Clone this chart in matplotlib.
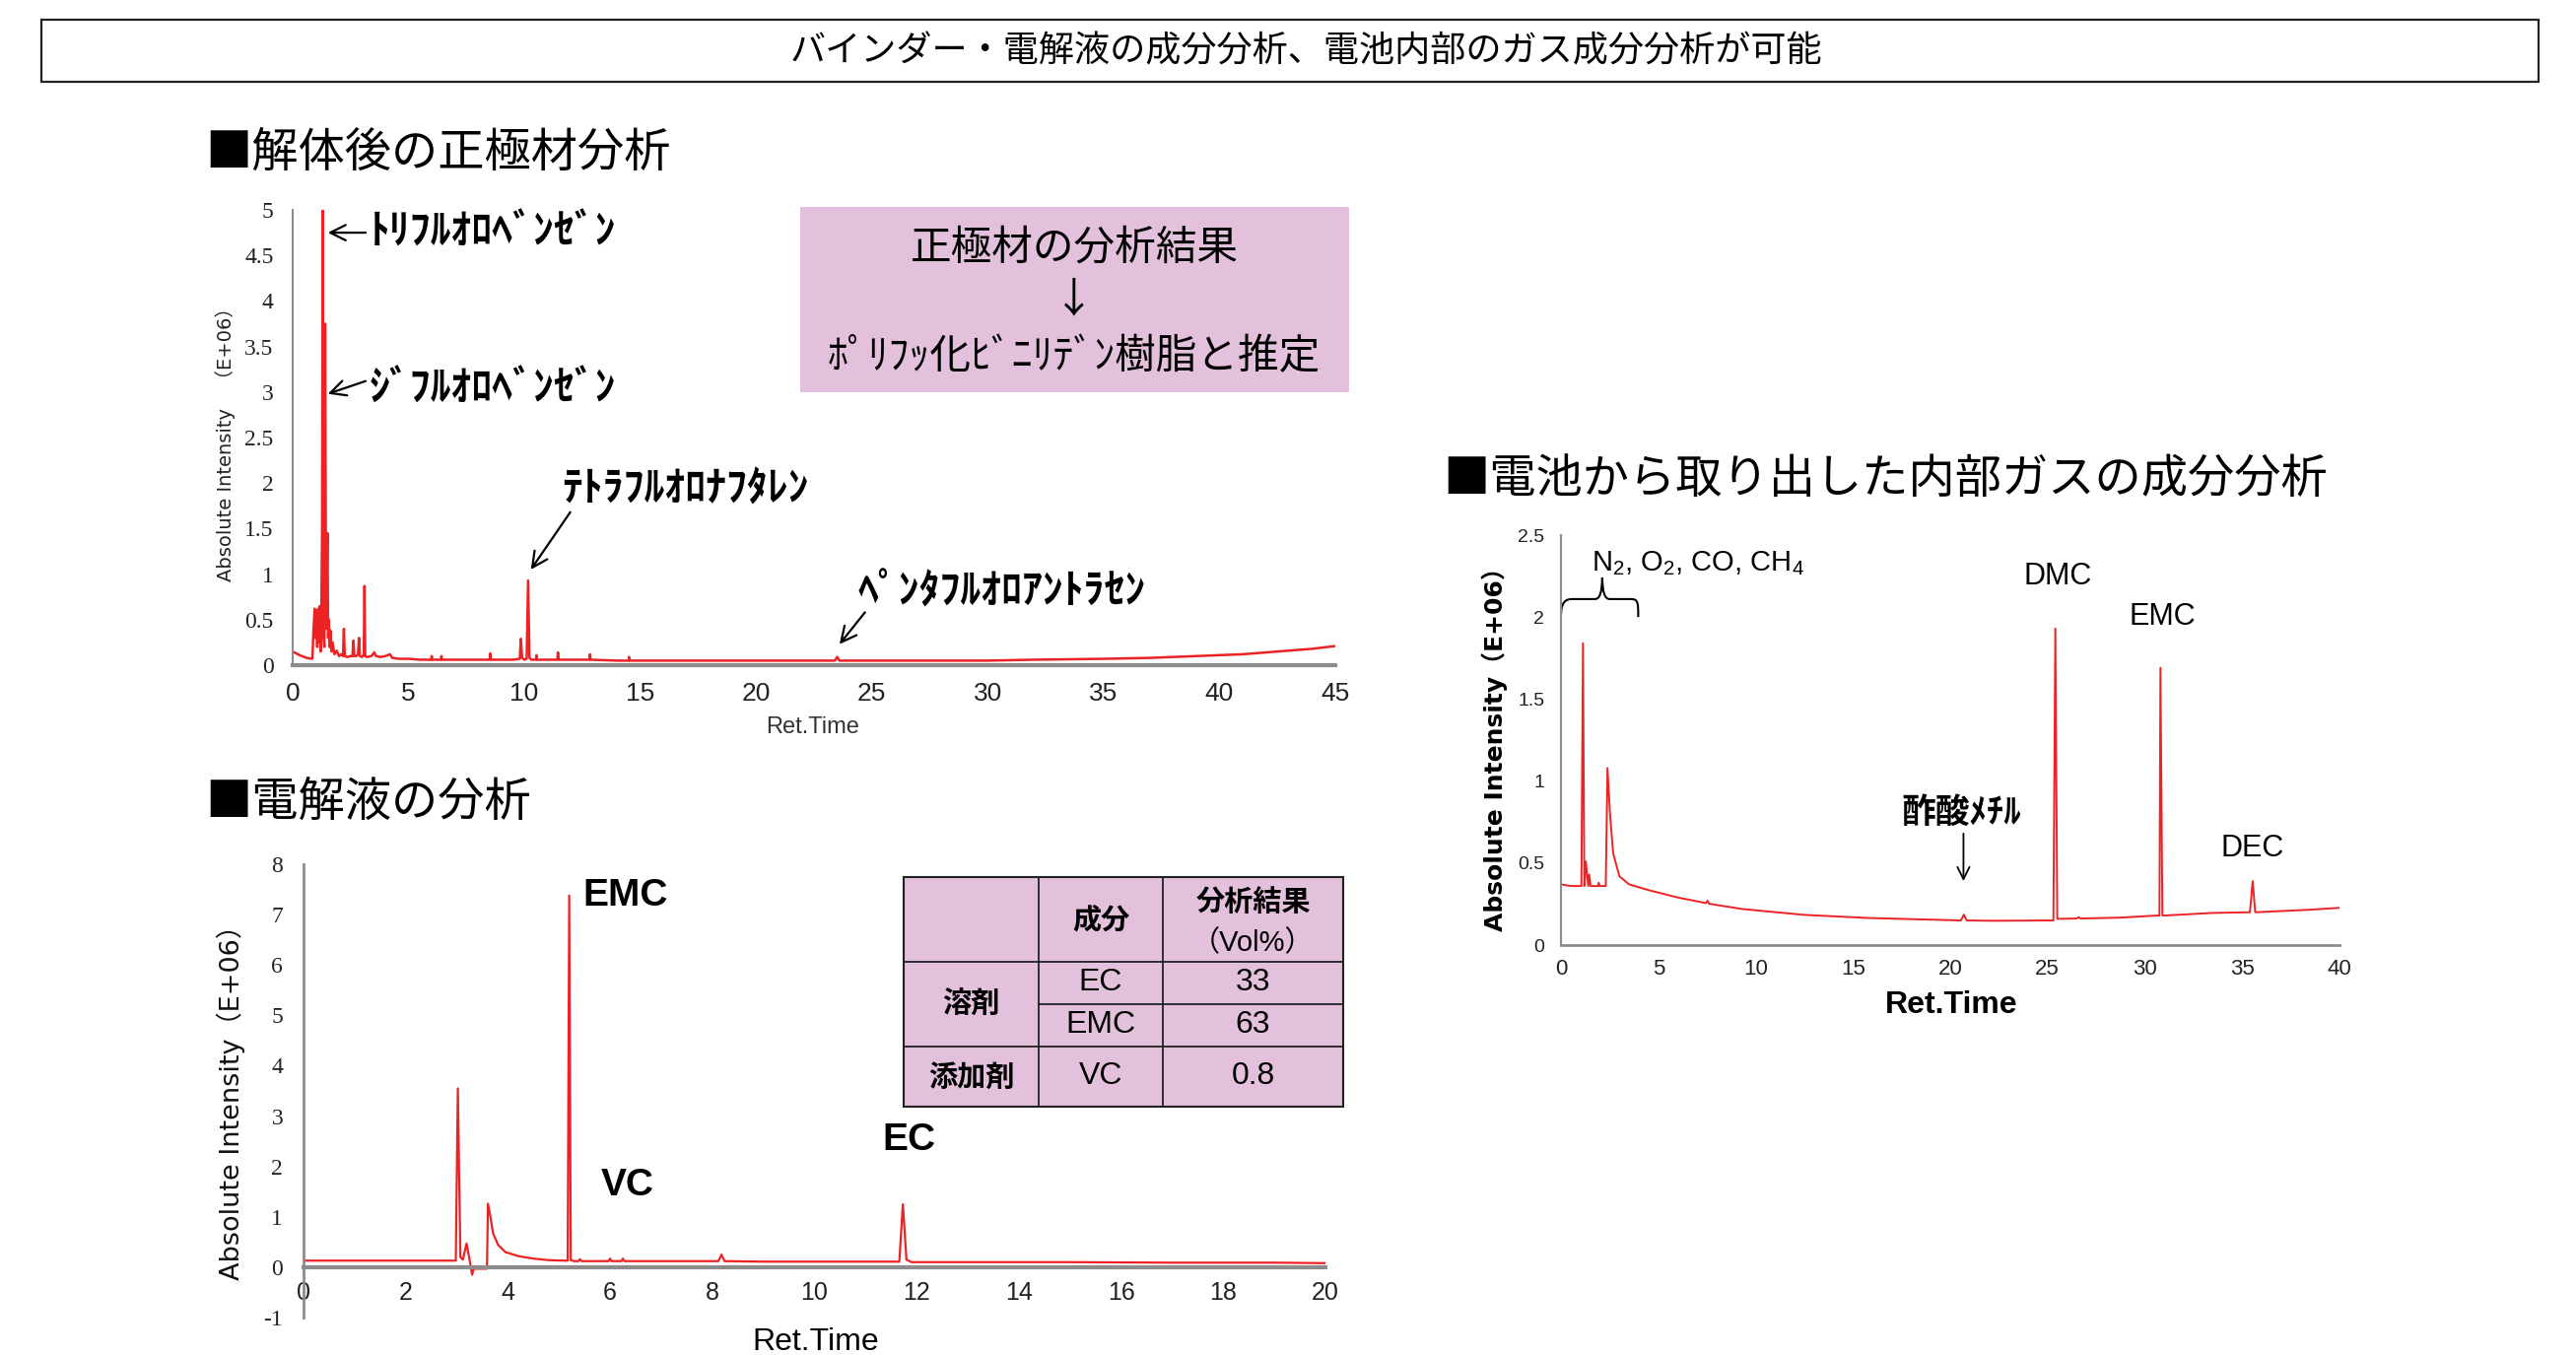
import matplotlib
matplotlib.use("Agg")
import matplotlib.pyplot as plt
from matplotlib.patches import Rectangle, PathPatch
from matplotlib.path import Path
from matplotlib.ticker import FuncFormatter

W, H = 2614, 1375
DPI = 100

JP = ["Noto Sans CJK JP", "DejaVu Sans"]
NARROW = ["Liberation Sans Narrow", "Liberation Sans", "Noto Sans CJK JP"]
SERIF = ["Liberation Serif", "DejaVu Serif"]
WIDE = ["DejaVu Sans", "Noto Sans CJK JP"]
RED = "#ED2224"
AXIS_GRAY = "#8c8c8c"
PINK = "#E3C1DC"

plt.rcParams["mathtext.fontset"] = "custom"
plt.rcParams["mathtext.rm"] = "Liberation Sans"
plt.rcParams["mathtext.it"] = "Liberation Sans:italic"

TITLE = "バインダー・電解液の成分分析、電池内部のガス成分分析が可能"

# cathode material after disassembly (x: min, y: E+06)
cathode_time = [0.0, 0.3, 0.6, 0.85, 0.9, 0.95, 0.98, 1.02, 1.06, 1.1,
                1.13, 1.17, 1.21, 1.24, 1.27, 1.3, 1.33, 1.37, 1.4, 1.44,
                1.47, 1.5, 1.53, 1.56, 1.6, 1.63, 1.67, 1.72, 1.8, 1.9,
                2.0, 2.1, 2.17, 2.21, 2.25, 2.35, 2.5, 2.58, 2.62, 2.66,
                2.75, 2.82, 2.86, 2.9, 3.0, 3.07, 3.1, 3.13, 3.2, 3.4,
                3.52, 3.6, 3.8, 4.0, 4.2, 4.3, 4.6, 5.0, 5.5, 5.98,
                6.0, 6.02, 6.4, 6.42, 6.44, 7.0, 8.0, 8.5, 8.53, 8.56,
                9.0, 9.5, 9.8, 9.85, 9.9, 10.0, 10.1, 10.16, 10.22, 10.3,
                10.5, 10.52, 10.54, 11.0, 11.42, 11.45, 11.48, 12.0, 12.8, 12.83,
                12.86, 14.0, 14.5, 14.52, 14.54, 16.0, 18.0, 20.0, 22.0, 23.4,
                23.5, 23.6, 25.0, 28.0, 30.0, 32.0, 35.0, 37.0, 39.0, 40.0,
                41.0, 42.0, 43.0, 44.0, 45.0]
cathode_intensity = [0.15, 0.11, 0.08, 0.07, 0.4, 0.62, 0.3, 0.6, 0.2, 0.62,
                     0.25, 0.65, 0.15, 0.66, 1.5, 5.0, 0.3, 0.2, 3.75, 0.4,
                     0.9, 1.45, 0.3, 0.5, 0.2, 0.38, 0.15, 0.25, 0.12, 0.16,
                     0.1, 0.12, 0.1, 0.4, 0.1, 0.09, 0.1, 0.1, 0.27, 0.1,
                     0.1, 0.12, 0.3, 0.1, 0.09, 0.12, 0.87, 0.1, 0.09, 0.1,
                     0.14, 0.1, 0.09, 0.1, 0.12, 0.08, 0.07, 0.07, 0.06, 0.06,
                     0.1, 0.06, 0.06, 0.1, 0.06, 0.06, 0.06, 0.06, 0.13, 0.06,
                     0.06, 0.06, 0.07, 0.29, 0.08, 0.06, 0.07, 0.93, 0.08, 0.06,
                     0.06, 0.11, 0.06, 0.06, 0.06, 0.14, 0.06, 0.06, 0.06, 0.12,
                     0.06, 0.05, 0.05, 0.09, 0.05, 0.05, 0.05, 0.05, 0.05, 0.05,
                     0.09, 0.05, 0.05, 0.05, 0.05, 0.06, 0.07, 0.08, 0.1, 0.11,
                     0.12, 0.14, 0.16, 0.18, 0.21]

# electrolyte
electrolyte_time = [0.0, 1.0, 2.0, 2.98, 3.02, 3.07, 3.12, 3.19, 3.25, 3.3,
                    3.33, 3.4, 3.5, 3.59, 3.61, 3.65, 3.71, 3.81, 3.95, 4.2,
                    4.5, 4.8, 5.1, 5.17, 5.2, 5.23, 5.3, 5.38, 5.41, 5.44,
                    5.97, 6.0, 6.03, 6.22, 6.25, 6.28, 7.0, 8.12, 8.18, 8.24,
                    9.0, 10.0, 11.0, 11.66, 11.73, 11.8, 11.9, 13.0, 15.0, 17.0,
                    19.0, 20.0]
electrolyte_intensity = [0.13, 0.13, 0.13, 0.13, 3.55, 0.2, 0.15, 0.47, 0.15, -0.15,
                         -0.03, -0.03, -0.03, -0.03, 1.26, 1.05, 0.67, 0.44, 0.30, 0.22,
                         0.17, 0.14, 0.13, 0.13, 7.38, 0.14, 0.12, 0.12, 0.16, 0.12,
                         0.12, 0.17, 0.12, 0.12, 0.17, 0.12, 0.12, 0.12, 0.25, 0.12,
                         0.11, 0.11, 0.11, 0.11, 1.25, 0.15, 0.1, 0.1, 0.1, 0.09,
                         0.09, 0.08]

# gas taken out of the cell
gas_time = [0.0, 0.5, 1.05, 1.13, 1.2, 1.28, 1.4, 1.45, 1.52, 1.7,
            1.9, 1.94, 1.98, 2.3, 2.39, 2.52, 2.68, 3.0, 3.5, 4.5,
            6.0, 7.45, 7.53, 7.6, 9.3, 12.5, 15.8, 19.0, 20.55, 20.7,
            20.85, 22.2, 25.1, 25.3, 25.4, 25.5, 25.6, 26.5, 26.6, 26.7,
            28.7, 30.6, 30.75, 30.8, 30.9, 31.0, 33.5, 35.4, 35.54, 35.67,
            38.4, 40.0]
gas_intensity = [0.37, 0.36, 0.36, 1.84, 0.36, 0.51, 0.36, 0.43, 0.36, 0.36,
                 0.36, 0.38, 0.36, 0.36, 1.08, 0.80, 0.56, 0.42, 0.37, 0.335,
                 0.29, 0.256, 0.27, 0.252, 0.22, 0.184, 0.165, 0.155, 0.15, 0.185,
                 0.15, 0.148, 0.15, 0.15, 1.93, 0.16, 0.16, 0.162, 0.17, 0.162,
                 0.167, 0.18, 0.18, 1.69, 0.18, 0.18, 0.196, 0.2, 0.39, 0.2,
                 0.215, 0.227]

table_groups = ["溶剤", "添加剤"]
table_components = ["EC", "EMC", "VC"]
table_results = ["33", "63", "0.8"]


def rect(left, top, right, bottom):
    return [left / W, 1 - bottom / H, (right - left) / W, (bottom - top) / H]


def fx(x):
    return x / W


def fy(y):
    return 1 - y / H


def style_axes(ax, left_lw=1.5, bottom_lw=2.5):
    ax.patch.set_alpha(0)
    for side in ("top", "right"):
        ax.spines[side].set_visible(False)
    ax.spines["left"].set_color(AXIS_GRAY)
    ax.spines["left"].set_linewidth(left_lw)
    ax.spines["bottom"].set_color(AXIS_GRAY)
    ax.spines["bottom"].set_linewidth(bottom_lw)
    ax.tick_params(length=0, colors="#222222")
    ax.yaxis.set_major_formatter(FuncFormatter(lambda v, _: f"{v:g}"))


def set_tick_font(labels, family, size):
    for lbl in labels:
        lbl.set_family(family)
        lbl.set_fontsize(size)


fig = plt.figure(figsize=(W / DPI, H / DPI), dpi=DPI)

# banner
fig.add_artist(Rectangle((fx(42), fy(83)), (2576 - 42) / W, (83 - 20) / H,
                         transform=fig.transFigure, fill=False, ec="#222222", lw=1.6))
fig.text(fx(1325), fy(52), TITLE, ha="center", va="center", fontsize=26, family=JP)

# ---- cathode chart ----
fig.text(fx(208), fy(156), "■解体後の正極材分析", ha="left", va="center", fontsize=34, family=JP)
ax1 = fig.add_axes(rect(297, 213, 1355, 675))
style_axes(ax1, 1.5, 3)
ax1.plot(cathode_time, cathode_intensity, color=RED, lw=1.8)
ax1.set_xlim(0, 45)
ax1.set_ylim(0, 5)
ax1.set_xticks(range(0, 46, 5))
ax1.set_yticks([i * 0.5 for i in range(11)])
ax1.tick_params(axis="x", pad=12)
ax1.tick_params(axis="y", pad=14)
set_tick_font(ax1.get_xticklabels(), NARROW, 19)
set_tick_font(ax1.get_yticklabels(), SERIF, 17)
fig.text(fx(229), fy(446), "Absolute Intensity　（E+06）", rotation=90, ha="center", va="center",
         fontsize=14, family=WIDE, color="#222222")
fig.text(fx(825), fy(738), "Ret.Time", ha="center", va="center", fontsize=17, family=NARROW, color="#333333")

label_font = dict(ha="left", va="center", fontsize=30, family=JP, weight="bold")
arrow = dict(arrowstyle="->", color="black", lw=1.6, mutation_scale=28, shrinkA=0, shrinkB=0)
ax1.text(3.3, 4.75, "ﾄﾘﾌﾙｵﾛﾍﾞﾝｾﾞﾝ", **label_font)
ax1.annotate("", xy=(1.52, 4.75), xytext=(3.15, 4.75), arrowprops=arrow)
ax1.text(3.3, 3.03, "ｼﾞﾌﾙｵﾛﾍﾞﾝｾﾞﾝ", **label_font)
ax1.annotate("", xy=(1.52, 2.98), xytext=(3.15, 3.12), arrowprops=arrow)
ax1.text(11.6, 1.93, "ﾃﾄﾗﾌﾙｵﾛﾅﾌﾀﾚﾝ", **label_font)
ax1.annotate("", xy=(10.28, 1.05), xytext=(11.98, 1.68), arrowprops=arrow)
ax1.text(24.4, 0.81, "ﾍﾟﾝﾀﾌﾙｵﾛｱﾝﾄﾗｾﾝ", **label_font)
ax1.annotate("", xy=(23.6, 0.23), xytext=(24.7, 0.58), arrowprops=arrow)

# result box
fig.add_artist(Rectangle((fx(812), fy(398)), (1369 - 812) / W, (398 - 210) / H,
                         transform=fig.transFigure, fc=PINK, ec="none", zorder=5))
fig.text(fx(1090), fy(252), "正極材の分析結果", ha="center", va="center", fontsize=30, family=JP, zorder=6)
fig.text(fx(1090), fy(305), "↓", ha="center", va="center", fontsize=30, family=JP, zorder=6)
fig.text(fx(1090), fy(363), "ﾎﾟﾘﾌｯ化ﾋﾞﾆﾘﾃﾞﾝ樹脂と推定", ha="center", va="center", fontsize=30,
         family=JP, zorder=6)

# ---- electrolyte chart ----
fig.text(fx(208), fy(815), "■電解液の分析", ha="left", va="center", fontsize=34, family=JP)
ax2 = fig.add_axes(rect(308, 877, 1345, 1337))
style_axes(ax2, 2, 3)
ax2.spines["bottom"].set_position(("data", 0))
ax2.plot(electrolyte_time, electrolyte_intensity, color=RED, lw=1.6)
ax2.set_xlim(0, 20)
ax2.set_ylim(-1, 8)
ax2.set_xticks(range(0, 21, 2))
ax2.set_yticks(range(-1, 9))
ax2.tick_params(axis="x", pad=10)
ax2.tick_params(axis="y", pad=15)
set_tick_font(ax2.get_xticklabels(), NARROW, 18)
set_tick_font(ax2.get_yticklabels(), SERIF, 17)
fig.text(fx(234), fy(1112), "Absolute Intensity（E+06）", rotation=90, ha="center", va="center",
         fontsize=19.5, family=WIDE, color="#111111")
fig.text(fx(828), fy(1362), "Ret.Time", ha="center", va="center", fontsize=23, family=NARROW)
peak_font = dict(ha="left", va="center", fontsize=28, weight="bold", family="Liberation Sans")
ax2.text(5.46, 7.38, "EMC", **peak_font)
ax2.text(5.81, 1.63, "VC", **peak_font)
ax2.text(11.32, 2.52, "EC", **peak_font)

# composition table
tx0, tx1, tx2, tx3 = 917, 1054, 1180, 1363
ty0, ty1, ty2, ty3, ty4 = 890, 976, 1019, 1062, 1123
axt = fig.add_axes(rect(tx0, ty0, tx3, ty4))
axt.set_xlim(tx0, tx3)
axt.set_ylim(ty4, ty0)
axt.axis("off")
axt.add_patch(Rectangle((tx0, ty0), tx3 - tx0, ty4 - ty0, fc=PINK, ec="#222222", lw=1.5, clip_on=False))
for x in (tx1, tx2):
    axt.plot([x, x], [ty0, ty4], color="#222222", lw=1.3)
for y in (ty1, ty3):
    axt.plot([tx0, tx3], [y, y], color="#222222", lw=1.3)
axt.plot([tx1, tx3], [ty2, ty2], color="#222222", lw=1.3)
axt.text((tx1 + tx2) / 2, (ty0 + ty1) / 2, "成分", ha="center", va="center", fontsize=21, weight="bold", family=JP)
axt.text((tx2 + tx3) / 2, 915, "分析結果", ha="center", va="center", fontsize=21, weight="bold", family=JP)
axt.text((tx2 + tx3) / 2, 957, "（Vol%）", ha="center", va="center", fontsize=21, family=NARROW)
axt.text((tx0 + tx1) / 2, (ty1 + ty3) / 2, table_groups[0], ha="center", va="center", fontsize=21,
         weight="bold", family=JP)
axt.text((tx0 + tx1) / 2, (ty3 + ty4) / 2, table_groups[1], ha="center", va="center", fontsize=21,
         weight="bold", family=JP)
row_centers = [(ty1 + ty2) / 2, (ty2 + ty3) / 2, (ty3 + ty4) / 2]
for yc, comp, val in zip(row_centers, table_components, table_results):
    axt.text((tx1 + tx2) / 2, yc, comp, ha="center", va="center", fontsize=23, family=NARROW)
    axt.text((tx2 + tx3) / 2, yc, val, ha="center", va="center", fontsize=23, family=NARROW)

# ---- gas chart ----
fig.text(fx(1464), fy(487), "■電池から取り出した内部ガスの成分分析", ha="left", va="center", fontsize=34, family=JP)
ax3 = fig.add_axes(rect(1584, 543, 2374, 959))
style_axes(ax3, 1.5, 2)
ax3.plot(gas_time, gas_intensity, color=RED, lw=1.4)
ax3.set_xlim(0, 40)
ax3.set_ylim(0, 2.5)
ax3.set_xticks(range(0, 41, 5))
ax3.set_yticks([0, 0.5, 1, 1.5, 2, 2.5])
ax3.tick_params(axis="x", pad=10)
ax3.tick_params(axis="y", pad=12)
set_tick_font(ax3.get_xticklabels(), NARROW, 16)
set_tick_font(ax3.get_yticklabels(), ["Liberation Sans", "DejaVu Sans"], 14)
fig.text(fx(1517), fy(754), "Absolute Intensity（E+06）", rotation=90, ha="center", va="center",
         fontsize=18, family=WIDE, weight="bold")
fig.text(fx(1980), fy(1020), "Ret.Time", ha="center", va="center", fontsize=23, family=NARROW, weight="bold")

ax3.text(1.55, 2.33, "N$_2$, O$_2$, CO, CH$_4$", ha="left", va="center", fontsize=21,
         family="Liberation Sans")
gas_font = dict(ha="center", va="center", fontsize=22, family=NARROW)
ax3.text(25.5, 2.25, "DMC", **gas_font)
ax3.text(30.9, 2.0, "EMC", **gas_font)
ax3.text(35.5, 0.59, "DEC", **gas_font)
ax3.text(20.55, 0.81, "酢酸ﾒﾁﾙ", ha="center", va="center", fontsize=25, family=JP, weight="bold")
ax3.annotate("", xy=(20.68, 0.39), xytext=(20.68, 0.68),
             arrowprops=dict(arrowstyle="->", color="black", lw=1.3, mutation_scale=22, shrinkA=0, shrinkB=0))

# curly brace over the light-gas group
brace = Path(
    [(0.0, 2.0), (0.0, 2.09), (0.2, 2.11), (0.6, 2.11),
     (1.75, 2.11),
     (2.0, 2.11), (2.1, 2.15), (2.12, 2.24),
     (2.14, 2.15), (2.25, 2.11), (2.5, 2.11),
     (3.6, 2.11),
     (3.95, 2.11), (3.97, 2.09), (3.97, 2.0)],
    [Path.MOVETO, Path.CURVE4, Path.CURVE4, Path.CURVE4,
     Path.LINETO,
     Path.CURVE4, Path.CURVE4, Path.CURVE4,
     Path.CURVE4, Path.CURVE4, Path.CURVE4,
     Path.LINETO,
     Path.CURVE4, Path.CURVE4, Path.CURVE4])
ax3.add_patch(PathPatch(brace, fill=False, ec="black", lw=1.5, clip_on=False))

fig.savefig("out.png", dpi=DPI)
